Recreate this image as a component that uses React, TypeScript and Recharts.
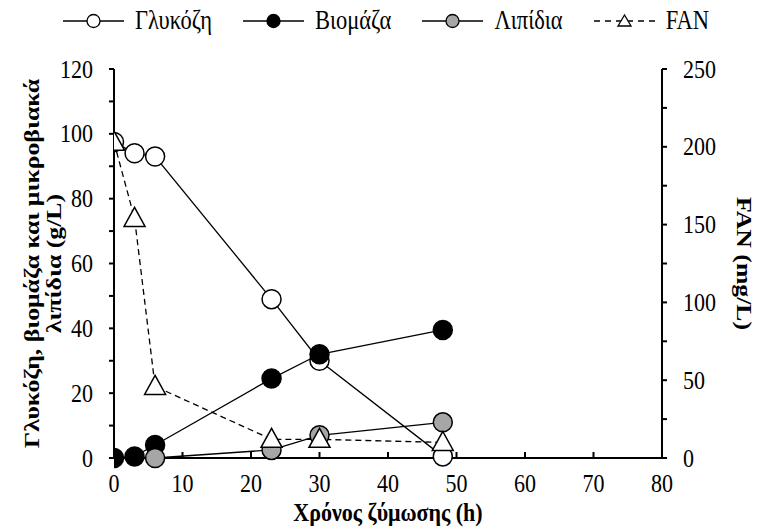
import React from 'react'
import { ComposedChart, Line, XAxis, YAxis } from 'recharts'

const FONT = 'Liberation Serif, DejaVu Serif, serif'
// the reference lettering is a little taller than it is wide
const SY = 1.17

// sampling times (h)
const times = [0, 3, 6, 23, 30, 48]
// g/L, left axis
const glucose = [97.5, 94, 93, 49, 30, 0.5]
const biomass = [0, 0.5, 4, 24.5, 32, 39.5]
const lipids: (number | null)[] = [null, null, 0, 2.5, 7, 11]
// mg/L, right axis
const fan = [203, 154, 46, 12, 12, 10]

const xTicks = [0, 10, 20, 30, 40, 50, 60, 70, 80]
const leftTicks = [0, 10, 20, 30, 40, 50, 60, 70, 80, 90, 100, 110, 120]
const rightTicks = [0, 25, 50, 75, 100, 125, 150, 175, 200, 225, 250]

const rows = times.map((t, i) => ({
  t,
  glucose: glucose[i],
  biomass: biomass[i],
  lipids: lipids[i],
  fan: fan[i],
}))

const dotStyle = (fill: string) => ({ r: 9.5, fill, stroke: '#000', strokeWidth: 1.5 })

function Triangle(props: any) {
  const { cx, cy } = props
  if (cx == null || cy == null) return <g />
  const w = 10.5
  return (
    <polygon
      points={`${cx},${cy - 11} ${cx - w},${cy + 8} ${cx + w},${cy + 8}`}
      fill="#fff"
      stroke="#000"
      strokeWidth={1.5}
    />
  )
}

function SparseTick(props: any) {
  const { x, y, payload, step, anchor, dx } = props
  if (payload.value % step !== 0) return <g />
  return (
    <text
      transform={`translate(${x + dx},${y}) scale(1,${SY})`}
      textAnchor={anchor}
      dominantBaseline="central"
      fontFamily={FONT}
      fontSize={22}
      fill="#000"
    >
      {payload.value}
    </text>
  )
}

function XTick(props: any) {
  const { x, payload } = props
  return (
    <text
      transform={`translate(${x},483) scale(1,${SY})`}
      textAnchor="middle"
      dominantBaseline="central"
      fontFamily={FONT}
      fontSize={22}
      fill="#000"
    >
      {payload.value}
    </text>
  )
}

function LeftTitle(props: any) {
  const vb = props.viewBox
  const cy = vb.y + vb.height / 2
  return (
    <text
      transform={`translate(39,${cy}) rotate(-90) scale(${SY},1)`}
      textAnchor="middle"
      fontFamily={FONT}
      fontSize={22}
      fontWeight="bold"
      fill="#000"
    >
      <tspan x={0} dy={0}>Γλυκόζη, βιομάζα και μικροβιακά</tspan>
      <tspan x={0} dy={22}>λιπίδια (g/L)</tspan>
    </text>
  )
}

function RightTitle(props: any) {
  const vb = props.viewBox
  const cy = vb.y + vb.height / 2
  return (
    <text
      transform={`translate(744,${cy}) rotate(90) scale(${SY},1)`}
      textAnchor="middle"
      dominantBaseline="central"
      fontFamily={FONT}
      fontSize={22}
      fontWeight="bold"
      fill="#000"
    >
      FAN (mg/L)
    </text>
  )
}

function XTitle(props: any) {
  const vb = props.viewBox
  return (
    <text
      transform={`translate(${vb.x + vb.width / 2},513) scale(1,1.1)`}
      textAnchor="middle"
      dominantBaseline="central"
      fontFamily={FONT}
      fontSize={22}
      fontWeight="bold"
      fill="#000"
    >
      Χρόνος ζύμωσης (h)
    </text>
  )
}

function LegendIcon({ kind }: { kind: string }) {
  const dashed = kind === 'fan'
  const fill = kind === 'biomass' ? '#000' : kind === 'lipids' ? '#a6a6a6' : '#fff'
  return (
    <svg width={61} height={20} style={{ display: 'block' }}>
      <line x1={0} y1={10} x2={61} y2={10} stroke="#000" strokeWidth={1.5} strokeDasharray={dashed ? '6 5' : undefined} />
      {dashed ? (
        <polygon points="30.5,4 24,15 37,15" fill="#fff" stroke="#000" strokeWidth={1.3} />
      ) : (
        <circle cx={30.5} cy={10} r={6.5} fill={fill} stroke="#000" strokeWidth={1.3} />
      )}
    </svg>
  )
}

const legendItems = [
  { kind: 'glucose', label: 'Γλυκόζη' },
  { kind: 'biomass', label: 'Βιομάζα' },
  { kind: 'lipids', label: 'Λιπίδια' },
  { kind: 'fan', label: 'FAN' },
]

export default function App() {
  return (
    <div style={{ position: 'absolute', left: 0, top: 0, width: 759, height: 529, background: '#fff' }}>
      <div
        style={{
          position: 'absolute',
          top: 11,
          left: 63,
          display: 'flex',
          gap: 31,
          fontFamily: FONT,
          fontSize: 22.5,
        }}
      >
        {legendItems.map((it) => (
          <div key={it.kind} style={{ display: 'flex', alignItems: 'center', gap: 11 }}>
            <LegendIcon kind={it.kind} />
            <span style={{ display: 'inline-block', transform: `scaleY(${SY})`, lineHeight: '20px' }}>{it.label}</span>
          </div>
        ))}
      </div>
      <ComposedChart width={759} height={529} data={rows} margin={{ top: 69, right: 37, bottom: 41, left: 54 }}>
        <XAxis
          dataKey="t"
          type="number"
          domain={[0, 80]}
          ticks={xTicks}
          height={30}
          axisLine={{ stroke: '#000', strokeWidth: 2 }}
          tickLine={{ stroke: '#000', strokeWidth: 2 }}
          tickSize={-6}
          tick={<XTick />}
          label={<XTitle />}
          allowDataOverflow
        />
        <XAxis
          xAxisId="top"
          orientation="top"
          type="number"
          domain={[0, 80]}
          height={0}
          tick={false}
          tickLine={false}
          axisLine={{ stroke: '#000', strokeWidth: 2 }}
        />
        <YAxis
          yAxisId="left"
          domain={[0, 120]}
          ticks={leftTicks}
          width={60}
          interval={0}
          axisLine={{ stroke: '#000', strokeWidth: 2 }}
          tickLine={{ stroke: '#000', strokeWidth: 2 }}
          tickSize={5}
          tick={<SparseTick step={20} anchor="end" dx={-14} />}
          label={<LeftTitle />}
        />
        <YAxis
          yAxisId="right"
          orientation="right"
          domain={[0, 250]}
          ticks={rightTicks}
          width={60}
          interval={0}
          axisLine={{ stroke: '#000', strokeWidth: 2 }}
          tickLine={{ stroke: '#000', strokeWidth: 2 }}
          tickSize={5}
          tick={<SparseTick step={50} anchor="start" dx={14} />}
          label={<RightTitle />}
        />
        <Line yAxisId="left" dataKey="glucose" stroke="#000" strokeWidth={1.3} dot={dotStyle('#fff')} isAnimationActive={false} />
        <Line yAxisId="left" dataKey="biomass" stroke="#000" strokeWidth={1.3} dot={dotStyle('#000')} isAnimationActive={false} />
        <Line yAxisId="left" dataKey="lipids" stroke="#000" strokeWidth={1.3} dot={dotStyle('#a6a6a6')} isAnimationActive={false} />
        <Line
          yAxisId="right"
          dataKey="fan"
          stroke="#000"
          strokeWidth={1.3}
          strokeDasharray="6 4"
          dot={<Triangle />}
          isAnimationActive={false}
        />
      </ComposedChart>
    </div>
  )
}
